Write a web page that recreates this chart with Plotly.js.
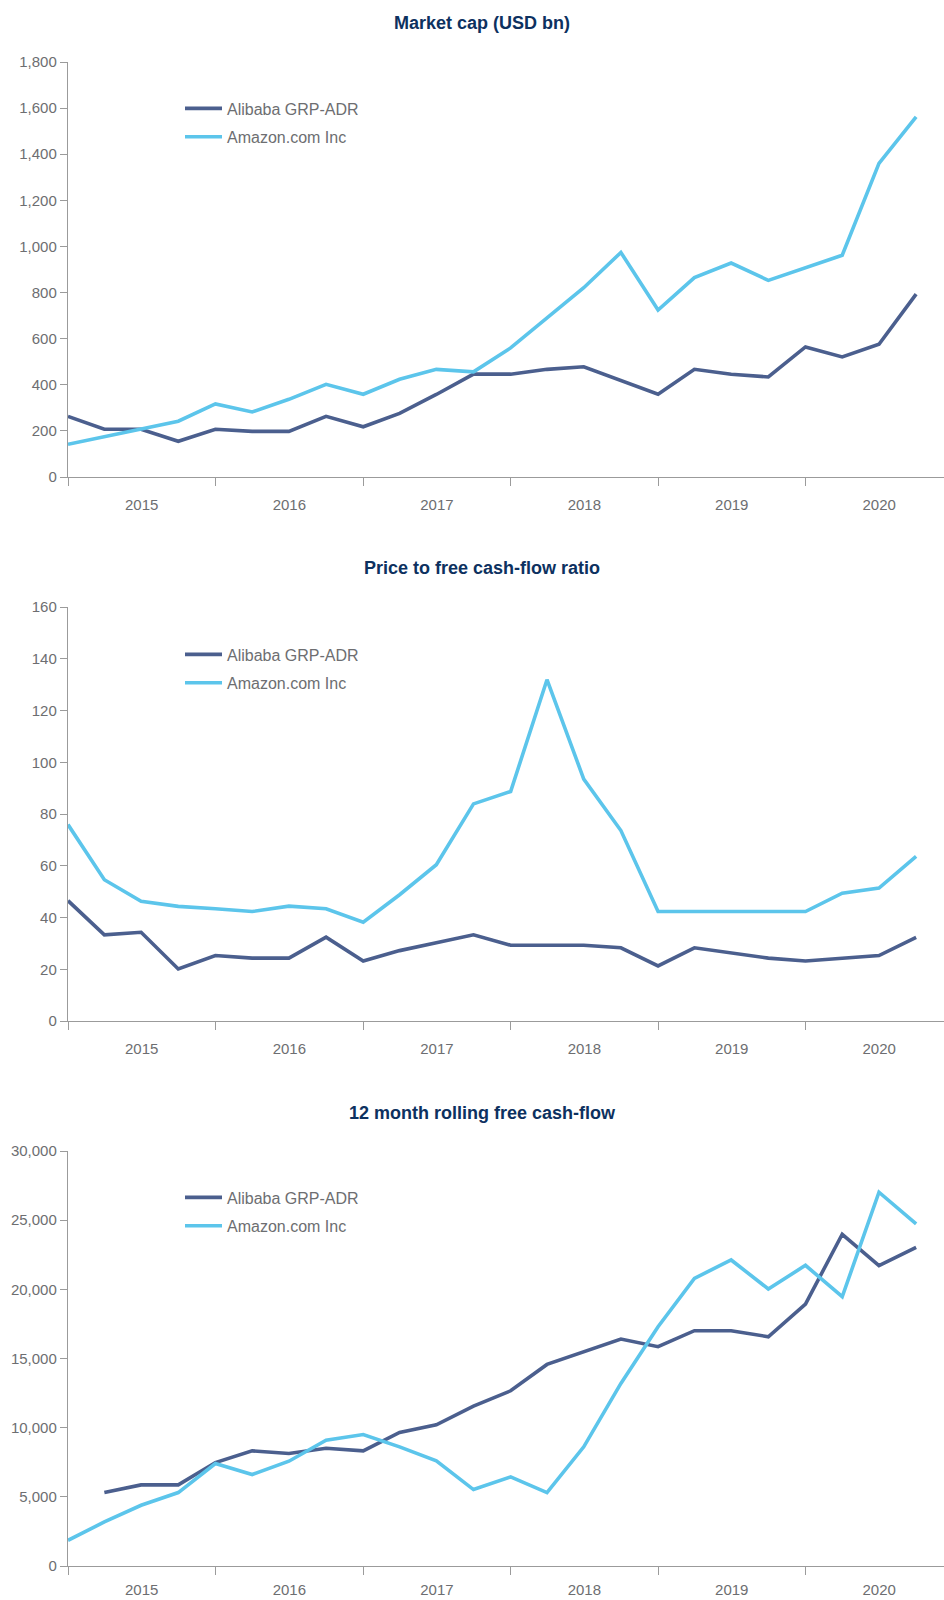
<!DOCTYPE html>
<html>
<head>
<meta charset="utf-8">
<script src="https://cdn.plot.ly/plotly-3.0.1.min.js"></script>
<style>
  html, body { margin: 0; padding: 0; background: #ffffff; }
  #chart { width: 944px; height: 1600px; }
</style>
</head>
<body>
<div id="chart"></div>
<script>
// Quarterly observation dates
const quarters = [
  '2015-01-01','2015-04-01','2015-07-01','2015-10-01',
  '2016-01-01','2016-04-01','2016-07-01','2016-10-01',
  '2017-01-01','2017-04-01','2017-07-01','2017-10-01',
  '2018-01-01','2018-04-01','2018-07-01','2018-10-01',
  '2019-01-01','2019-04-01','2019-07-01','2019-10-01',
  '2020-01-01','2020-04-01','2020-07-01','2020-10-01'
];

const seriesNames = ['Alibaba GRP-ADR', 'Amazon.com Inc'];
const chartTitles = ['Market cap (USD bn)', 'Price to free cash-flow ratio', '12 month rolling free cash-flow'];

// Market cap (USD bn)
const mcapAlibaba = [263, 207, 207, 155, 207, 198, 198, 263, 218, 276, 358, 446, 446, 467, 478, 420, 359, 467, 446, 434, 564, 521, 576, 793];
const mcapAmazon  = [142, 174, 210, 242, 317, 282, 337, 402, 359, 424, 467, 456, 560, 690, 821, 974, 724, 865, 928, 853, 908, 962, 1360, 1562];

// Price to free cash-flow ratio
const pfcfAlibaba = [46.5, 33.3, 34.3, 20.1, 25.3, 24.3, 24.3, 32.4, 23.2, 27.2, 30.2, 33.3, 29.3, 29.3, 29.3, 28.3, 21.3, 28.3, 26.2, 24.3, 23.2, 24.3, 25.3, 32.3];
const pfcfAmazon  = [75.9, 54.6, 46.3, 44.3, 43.4, 42.3, 44.4, 43.4, 38.2, 48.8, 60.4, 83.9, 88.7, 131.9, 93.5, 73.6, 42.3, 42.3, 42.3, 42.3, 42.3, 49.4, 51.4, 63.6];

// 12 month rolling free cash-flow
const fcfAlibaba = [null, 5308, 5862, 5862, 7479, 8323, 8130, 8516, 8323, 9650, 10205, 11556, 12666, 14572, 15489, 16405, 15850, 17008, 17008, 16574, 18936, 23980, 21708, 23039];
const fcfAmazon  = [1858, 3185, 4391, 5308, 7407, 6610, 7575, 9095, 9505, 8613, 7600, 5525, 6442, 5308, 8613, 13197, 17298, 20796, 22123, 20022, 21736, 19465, 27019, 24725];

const COL_BABA = '#4b5f8e';
const COL_AMZN = '#5cc5eb';
const GREY = '#6d6e71';
const AXIS = '#9b9b9b';
const NAVY = '#0d3160';
const FONT = 'Liberation Sans, Arial, sans-serif';

const H = 1600, W = 944;
const py = v => 1 - v / H;
const px = v => v / W;

function mk(x, y, name, color, xa, ya, leg) {
  return {
    x: x, y: y, name: name, type: 'scatter', mode: 'lines',
    line: { color: color, width: 3.6 },
    xaxis: xa, yaxis: ya, legend: leg, legendgroup: leg + name,
    connectgaps: false, hoverinfo: 'skip'
  };
}

const data = [
  mk(quarters, mcapAlibaba, seriesNames[0], COL_BABA, 'x', 'y', 'legend'),
  mk(quarters, mcapAmazon,  seriesNames[1], COL_AMZN, 'x', 'y', 'legend'),
  mk(quarters, pfcfAlibaba, seriesNames[0], COL_BABA, 'x2', 'y2', 'legend2'),
  mk(quarters, pfcfAmazon,  seriesNames[1], COL_AMZN, 'x2', 'y2', 'legend2'),
  mk(quarters, fcfAlibaba,  seriesNames[0], COL_BABA, 'x3', 'y3', 'legend3'),
  mk(quarters, fcfAmazon,   seriesNames[1], COL_AMZN, 'x3', 'y3', 'legend3')
];

function xax(anchor, standoff) {
  return {
    anchor: anchor, domain: [px(68), 1],
    type: 'date', range: ['2015-01-01', '2020-12-09'],
    tick0: '2015-01-01', dtick: 'M12', tickformat: '%Y', ticklabelmode: 'period',
    ticks: 'outside', ticklen: 8, tickcolor: AXIS, tickwidth: 1,
    showline: true, linecolor: AXIS, linewidth: 1.2,
    showgrid: false, zeroline: false, ticklabelstandoff: standoff,
    tickfont: { family: FONT, size: 15, color: GREY }, fixedrange: true
  };
}
function yax(anchor, top, bottom, max, dtick) {
  return {
    anchor: anchor, domain: [py(bottom), py(top)],
    range: [0, max], dtick: dtick, tick0: 0, tickformat: ',d',
    ticks: 'outside', ticklen: 7, tickcolor: AXIS, tickwidth: 1,
    showline: true, linecolor: AXIS, linewidth: 1.2,
    showgrid: false, zeroline: false,
    tickfont: { family: FONT, size: 15, color: GREY }, fixedrange: true
  };
}
function leg(topPx) {
  return {
    x: px(180), xanchor: 'left', y: py(topPx), yanchor: 'top',
    bgcolor: 'rgba(0,0,0,0)', borderwidth: 0,
    font: { family: FONT, size: 16, color: GREY },
    traceorder: 'grouped', tracegroupgap: 4.5, itemwidth: 37
  };
}
function ttl(text, yPx) {
  return {
    text: '<b>' + text + '</b>', xref: 'paper', yref: 'paper',
    x: px(482), y: py(yPx), xanchor: 'center', yanchor: 'middle',
    showarrow: false, font: { family: FONT, size: 18, color: NAVY }
  };
}

const layout = {
  width: W, height: H,
  margin: { l: 0, r: 0, t: 0, b: 0 },
  paper_bgcolor: '#ffffff', plot_bgcolor: '#ffffff',
  showlegend: true,
  xaxis: xax('y', 6), yaxis: yax('x', 62, 477, 1800, 200),
  xaxis2: xax('y2', 6), yaxis2: yax('x2', 607, 1021, 160, 20),
  xaxis3: xax('y3', 2), yaxis3: yax('x3', 1151, 1566, 30000, 5000),
  legend: leg(91.5), legend2: leg(637.5), legend3: leg(1180.5),
  annotations: [ttl(chartTitles[0], 23), ttl(chartTitles[1], 568), ttl(chartTitles[2], 1113)]
};

Plotly.newPlot('chart', data, layout, { displayModeBar: false, staticPlot: true });
</script>
</body>
</html>
